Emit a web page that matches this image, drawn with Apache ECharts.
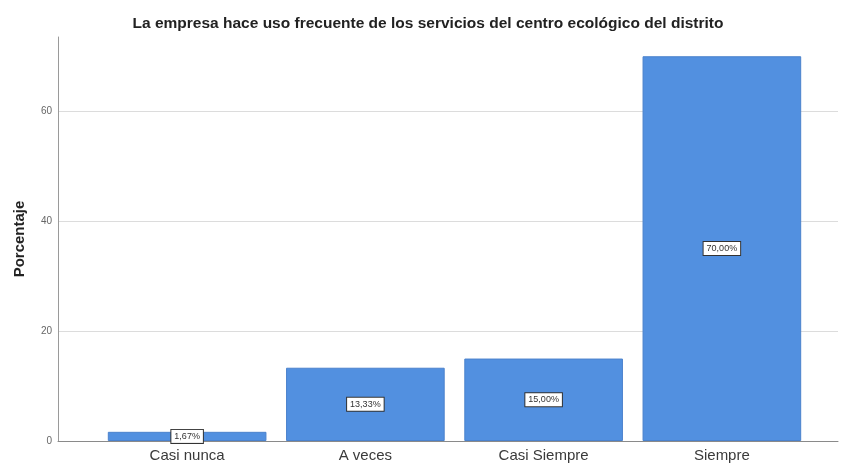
<!DOCTYPE html>
<html>
<head>
<meta charset="utf-8">
<script src="https://cdn.jsdelivr.net/npm/echarts@6/dist/echarts.min.js"></script>
<style>
html,body{margin:0;padding:0;background:#fff;}
#chart{width:844px;height:464px;}
</style>
</head>
<body>
<div id="chart"></div>
<script>
const titleText = 'La empresa hace uso frecuente de los servicios del centro ecológico del distrito';
const categories = ['Casi nunca', 'A veces', 'Casi Siempre', 'Siempre'];
const percentages = [1.67, 13.33, 15.00, 70.00];
const yTicks = [0, 20, 40, 60];
const yName = 'Porcentaje';

const yMax = 73.5;
const chart = echarts.init(document.getElementById('chart'));
chart.setOption({
  animation: false,
  backgroundColor: '#ffffff',
  title: {
    text: titleText,
    left: 428, top: 16, textAlign: 'center', padding: 0,
    textStyle: {fontFamily: 'Liberation Sans, Arial, sans-serif', fontWeight: 'bold', fontSize: 15.5, color: '#222'}
  },
  grid: [
    {left: 58, right: 6, top: 37, bottom: 23},
    {left: 98, right: 33, top: 37, bottom: 23}
  ],
  xAxis: [
    {gridIndex: 0, type: 'value', min: 0, max: 1,
     axisLine: {show: true, lineStyle: {color: '#8a8a8a', width: 1}},
     axisTick: {show: false}, axisLabel: {show: false}, splitLine: {show: false}},
    {gridIndex: 1, type: 'category', data: categories,
     axisLine: {show: false}, axisTick: {show: false},
     axisLabel: {fontFamily: 'Liberation Sans, Arial, sans-serif', fontSize: 15, color: '#3a3a3a', margin: 7}}
  ],
  yAxis: [
    {gridIndex: 0, type: 'value', min: 0, max: yMax, interval: 20,
     name: yName, nameLocation: 'middle', nameGap: 31,
     nameTextStyle: {fontFamily: 'Liberation Sans, Arial, sans-serif', fontWeight: 'bold', fontSize: 15, color: '#222'},
     axisLine: {show: true, lineStyle: {color: '#9a9a9a', width: 1}},
     axisTick: {show: false},
     axisLabel: {fontSize: 10, color: '#666', margin: 6, showMaxLabel: false,
       formatter: v => yTicks.indexOf(v) >= 0 ? String(v) : ''},
     splitLine: {show: true, showMinLine: false, showMaxLine: false, lineStyle: {color: '#dcdcdc', width: 1}}},
    {gridIndex: 1, type: 'value', min: 0, max: yMax, show: false, splitLine: {show: false}}
  ],
  series: [{
    type: 'bar', xAxisIndex: 1, yAxisIndex: 1,
    data: percentages,
    barCategoryGap: '11%',
    itemStyle: {color: '#5290e0', borderColor: '#4b82cc', borderWidth: 1},
    label: {
      show: true, position: 'inside',
      formatter: p => p.value.toFixed(2).replace('.', ',') + '%',
      fontFamily: 'Liberation Sans, Arial, sans-serif', fontSize: 9, color: '#333',
      backgroundColor: '#ffffff', borderColor: '#333', borderWidth: 1, padding: [2, 3]
    }
  }]
});
</script>
</body>
</html>
